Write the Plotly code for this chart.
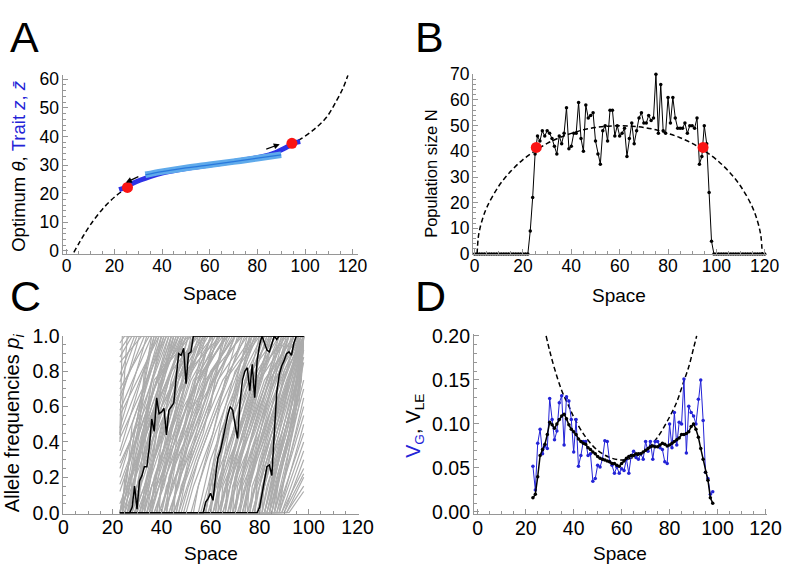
import plotly.graph_objects as go

W, H = 798, 573
FONT = "Liberation Sans, Arial, Helvetica, sans-serif"

# ---------------- Panel A data ----------------
theta_x = [3, 5, 7, 10, 15, 20.6, 25.7, 30, 35, 40, 50, 60, 70, 80, 85, 90, 94.2, 97.9, 103.7, 109.1, 113.2, 116, 118]
theta_y = [-0.5, 2.5, 5.3, 9.2, 14.6, 19.2, 22.2, 24.2, 26.0, 27.3, 29.0, 30.0, 31.0, 32.7, 34.0, 35.6, 37.5, 39.0, 42.4, 46.8, 52.5, 57.0, 61.4]
zbar_x = [22, 24, 26, 28, 31, 35, 40, 50, 60, 70, 80, 85, 88, 91, 94, 96, 98]
zbar_y = [21.4, 22.0, 22.8, 23.7, 24.8, 26.0, 27.2, 28.8, 30.0, 31.2, 32.6, 33.6, 34.5, 35.7, 37.0, 37.8, 38.2]
band_x = [33, 40, 50, 60, 70, 80, 90]
band_y = [26.6, 27.7, 29.0, 30.1, 31.2, 32.4, 33.6]
edge_x = [25.5, 94.5]
edge_theta = [22.2, 37.6]
arrow_tail_x = [30.7, 83.1]
arrow_tail_y = [26.2, 35.4]
arrow_head_x = [24.8, 89.4]
arrow_head_y = [23.9, 37.3]

# ---------------- Panel B data ----------------
space_B = list(range(0, 121))
pop_N = ([0] * 23 +
         [9, 22, 39, 46, 44, 48, 46, 48, 47, 45, 42, 39, 46, 43, 47, 57, 41, 42, 47, 47,
          59, 45, 40, 58, 53, 54, 55, 44, 39, 35, 48, 50, 44, 56, 56, 46, 50, 46, 47, 49,
          38, 45, 51, 43, 48, 53, 55, 51, 51, 54, 52, 53, 70, 47, 66, 48, 47, 61, 51, 61,
          53, 49, 49, 49, 51, 47, 50, 50, 49, 53, 35, 38, 50, 43, 24, 5] +
         [0] * 22)
cap_x = [1, 1.5, 2, 3, 5, 10, 15, 20, 25, 30, 35, 40, 45, 50, 55, 60, 65, 70, 75, 80, 85, 90, 95, 100, 105, 110, 115, 117, 118, 118.5, 119]
cap_N = [0, 6.5, 9.2, 12.9, 18.1, 26.5, 32.3, 36.8, 40.2, 43.1, 45.3, 47.0, 48.4, 49.3, 49.8, 50.0,
         49.8, 49.3, 48.4, 47.0, 45.3, 43.1, 40.2, 36.8, 32.3, 26.5, 18.1, 12.9, 9.2, 6.5, 0]
edge_N = [41.5, 41.5]

# ---------------- Panel C data ----------------
demes = list(range(23, 99))
# grey loci, set 1: x where p leaves 0, x at p=0.3, x at p=0.6, x where p reaches 1
g_x0 = [23, 23, 24, 24, 25, 26, 26, 27, 28, 28, 29, 30, 31, 31, 32, 33, 34, 35, 35, 36, 37, 38, 39, 40, 41, 42, 43, 44, 45, 46, 47,
        49, 52, 55,
        57, 58, 59, 60, 61, 62, 63, 64, 65, 66, 67, 68, 69, 70, 71, 72, 73, 74, 75, 76, 77, 78, 79, 80, 81, 82, 83, 84, 85, 86]
g_x3 = [27, 30, 28, 32, 29, 31, 34, 30, 35, 32, 37, 33, 38, 36, 40, 37, 41, 39, 43, 42, 44, 42, 46, 45, 48, 46, 50, 49, 52, 51, 54,
        55, 58, 60,
        63, 62, 66, 64, 68, 66, 70, 69, 71, 70, 74, 72, 76, 74, 78, 77, 79, 78, 82, 80, 83, 82, 85, 84, 86, 87, 88, 89, 90, 91]
g_x6 = [31, 36, 33, 38, 35, 34, 41, 37, 39, 40, 42, 38, 45, 40, 47, 44, 46, 48, 50, 46, 52, 49, 51, 54, 53, 56, 58, 55, 60, 59, 62,
        63, 64, 68,
        67, 70, 72, 69, 75, 73, 76, 74, 79, 77, 80, 78, 82, 81, 84, 83, 86, 85, 88, 87, 89, 88, 91, 90, 92, 93, 94, 95, 94, 96]
g_x1 = [37, 46, 41, 50, 43, 40, 53, 45, 49, 56, 51, 44, 58, 48, 55, 61, 53, 57, 64, 52, 60, 66, 58, 63, 69, 61, 67, 72, 65, 70, 74,
        71, 77, 75,
        79, 76, 82, 78, 85, 80, 88, 83, 90, 86, 92, 84, 94, 89, 96, 91, 97, 93, 98, 95, 98, 97, 98, 96, 98, 98, 98, 98, 98, 98]
# grey loci, set 2: x at p = 0, 0.15, 0.45, 0.75, 1
h_x0 = [23, 23, 24, 25, 25, 26, 27, 27, 28, 29, 30, 30, 31, 32, 33, 34, 34, 35, 36, 37, 38, 39, 40, 41, 42, 43, 44, 45, 46, 48,
        50, 53, 56, 58, 59, 60, 61, 62, 63, 64, 65, 66, 67, 68, 69, 70, 71, 72, 73, 74, 75, 76, 77, 78, 79, 80, 81, 82, 83, 85]
h_x15 = [25, 27, 26, 29, 27, 30, 28, 31, 30, 33, 31, 34, 35, 33, 36, 38, 36, 39, 38, 41, 40, 43, 42, 45, 44, 47, 46, 49, 48, 51,
         53, 55, 59, 60, 62, 61, 64, 63, 66, 65, 68, 67, 70, 69, 72, 71, 74, 73, 76, 75, 78, 77, 80, 79, 82, 81, 83, 85, 86, 87]
h_x45 = [29, 31, 33, 32, 30, 36, 34, 33, 37, 38, 35, 40, 38, 41, 43, 42, 45, 44, 47, 46, 49, 48, 51, 50, 53, 52, 55, 57, 56, 59,
         61, 62, 64, 67, 66, 69, 70, 72, 71, 74, 73, 76, 75, 78, 77, 80, 79, 82, 81, 83, 84, 85, 86, 87, 88, 89, 90, 91, 92, 93]
h_x75 = [33, 38, 36, 40, 34, 39, 41, 37, 43, 40, 45, 44, 47, 46, 49, 47, 52, 50, 53, 55, 54, 57, 58, 56, 61, 59, 63, 62, 65, 67,
         66, 70, 72, 71, 75, 77, 74, 79, 78, 81, 80, 83, 82, 85, 84, 87, 86, 88, 89, 90, 91, 92, 93, 94, 92, 95, 96, 95, 97, 97]
h_x1 = [36, 44, 42, 48, 39, 47, 45, 52, 49, 46, 54, 50, 57, 51, 59, 54, 62, 56, 65, 60, 67, 63, 70, 66, 72, 68, 75, 70, 77, 73,
        79, 76, 81, 78, 84, 83, 87, 85, 90, 86, 92, 88, 94, 90, 96, 92, 97, 94, 98, 95, 98, 97, 98, 98, 98, 98, 98, 98, 98, 98]
# grey loci, set 3: x at p = 0, 0.2, 0.5, 0.8, 1
k_x0 = [23, 24, 26, 27, 29, 30, 32, 33, 35, 36, 38, 39, 41, 42, 44, 45, 47,
        58, 60, 61, 63, 64, 66, 67, 69, 70, 72, 73, 75, 76, 78, 79, 81, 82, 84, 86, 88]
k_x2 = [26, 25, 29, 28, 32, 31, 35, 34, 38, 37, 41, 40, 44, 43, 47, 46, 50,
        60, 61, 64, 64, 67, 67, 70, 70, 73, 73, 76, 76, 79, 79, 82, 82, 85, 86, 88, 90]
k_x5 = [28, 31, 33, 35, 34, 37, 40, 42, 41, 44, 46, 48, 47, 50, 52, 54, 55,
        64, 67, 68, 70, 72, 73, 75, 77, 78, 80, 81, 83, 84, 86, 87, 88, 90, 91, 93, 94]
k_x8 = [35, 33, 39, 42, 44, 41, 46, 48, 50, 52, 51, 55, 57, 56, 60, 62, 61,
        70, 73, 76, 75, 79, 81, 80, 84, 85, 87, 86, 89, 91, 90, 93, 94, 95, 96, 97, 97]
k_x1 = [40, 38, 51, 47, 55, 49, 58, 53, 61, 57, 64, 60, 67, 63, 70, 66, 73,
        80, 77, 85, 82, 88, 86, 91, 89, 94, 92, 96, 94, 98, 97, 98, 98, 98, 98, 98, 98]
# loci already polymorphic at the left range edge (p at x=23, x where p reaches 1)
gl_p = [0.12, 0.20, 0.28, 0.35, 0.42, 0.48, 0.55, 0.62, 0.70, 0.78, 0.85, 0.92, 0.96,
        0.05, 0.16, 0.25, 0.32, 0.45, 0.58, 0.66, 0.74, 0.88, 0.40, 0.44]
gl_x1 = [44, 40, 47, 37, 42, 34, 39, 31, 35, 29, 32, 27, 25,
         49, 45, 43, 41, 38, 36, 33, 30, 28, 26, 24]
# loci still polymorphic at the right range edge (x where p leaves 0, p at x=98)
gr_x0 = [84, 86, 87, 88, 89, 90, 91, 85, 83, 87, 92, 86, 88, 89, 90, 84, 82, 91]
gr_p = [0.75, 0.60, 0.45, 0.50, 0.35, 0.30, 0.20, 0.85, 0.92, 0.65, 0.12, 0.55, 0.40, 0.25, 0.22, 0.70, 0.88, 0.15]

black1 = ([0] * 5 +
          [0.03, 0.15, 0.02, 0.18, 0.21, 0.26, 0.26, 0.37, 0.53, 0.46, 0.65, 0.56, 0.57, 0.59, 0.44,
           0.58, 0.60, 0.62, 0.77, 0.90, 0.89, 0.93, 0.73, 0.90, 0.91] +
          [1] * 46)
black2 = ([0] * 35 +
          [0.06, 0.08, 0.11, 0.07, 0.20, 0.31, 0.35, 0.42, 0.48, 0.55, 0.60, 0.58, 0.50, 0.42, 0.62,
           0.75, 0.80, 0.82, 0.69, 0.84, 0.65, 0.86, 0.95, 1.0, 0.96, 0.92, 0.91, 0.95, 1.0, 0.98] +
          [1] * 11)
black3 = ([0] * 57 +
          [0.03, 0.10, 0.17, 0.26, 0.27, 0.21, 0.45, 0.68, 0.78, 0.83, 0.86, 0.90, 0.91, 0.89, 0.96] +
          [1] * 4)

# ---------------- Panel D data ----------------
VG = [0.052, 0.025, 0.078, 0.094, 0.066, 0.075, 0.072, 0.129, 0.105, 0.082,
      0.092, 0.124, 0.132, 0.076, 0.131, 0.126, 0.105, 0.068, 0.105, 0.052,
      0.064, 0.080, 0.080, 0.064, 0.066, 0.035, 0.038, 0.053, 0.051, 0.060,
      0.081, 0.080, 0.057, 0.053, 0.044, 0.051, 0.044, 0.049, 0.047, 0.060,
      0.044, 0.064, 0.069, 0.062, 0.060, 0.066, 0.060, 0.080, 0.069, 0.080,
      0.060, 0.080, 0.080, 0.073, 0.071, 0.057, 0.055, 0.100, 0.073, 0.113,
      0.076, 0.102, 0.100, 0.151, 0.067, 0.120, 0.113, 0.109, 0.100, 0.128,
      0.150, 0.104, 0.045, 0.038, 0.020, 0.023]
VLE = [0.016, 0.020, 0.040, 0.064, 0.071, 0.077, 0.088, 0.102, 0.099, 0.095,
       0.100, 0.105, 0.109, 0.111, 0.106, 0.099, 0.094, 0.091, 0.088, 0.083,
       0.080, 0.078, 0.077, 0.073, 0.071, 0.068, 0.066, 0.063, 0.061, 0.060,
       0.059, 0.058, 0.057, 0.055, 0.055, 0.053, 0.052, 0.055, 0.058, 0.061,
       0.063, 0.064, 0.064, 0.066, 0.066, 0.066, 0.068, 0.070, 0.072, 0.074,
       0.075, 0.074, 0.074, 0.076, 0.078, 0.077, 0.075, 0.076, 0.078, 0.080,
       0.082, 0.084, 0.088, 0.088, 0.089, 0.091, 0.097, 0.100, 0.094, 0.085,
       0.072, 0.060, 0.045, 0.036, 0.016, 0.010]
vtheory_x = [28.5, 30, 32, 35, 38, 40, 45, 50, 55, 60, 65, 70, 75, 80, 83, 86, 88, 90, 91.3]
vtheory_y = [0.200, 0.183, 0.163, 0.138, 0.120, 0.108, 0.085, 0.070, 0.062, 0.059, 0.062, 0.070,
             0.085, 0.108, 0.125, 0.149, 0.165, 0.186, 0.200]

BLUE = "rgb(35,35,215)"
DASH = "5px,3px"

fig = go.Figure()

# ---- A ----
fig.add_trace(go.Scatter(x=theta_x, y=theta_y, mode="lines", line=dict(color="black", width=1.5, dash=DASH, shape="spline"),
                         xaxis="x", yaxis="y"))
fig.add_trace(go.Scatter(x=zbar_x, y=zbar_y, mode="lines", line=dict(color="rgb(45,50,230)", width=5, shape="spline"),
                         xaxis="x", yaxis="y"))
fig.add_trace(go.Scatter(x=band_x, y=band_y, mode="lines", line=dict(color="rgb(95,170,235)", width=6.5, shape="spline"),
                         xaxis="x", yaxis="y"))
fig.add_trace(go.Scatter(x=band_x, y=band_y, mode="lines", line=dict(color="rgb(40,120,220)", width=1.3, shape="spline"),
                         xaxis="x", yaxis="y"))
fig.add_trace(go.Scatter(x=edge_x, y=edge_theta, mode="markers", marker=dict(color="rgb(250,20,20)", size=11),
                         xaxis="x", yaxis="y", cliponaxis=False))

# ---- B ----
fig.add_trace(go.Scatter(x=cap_x, y=cap_N, mode="lines", line=dict(color="black", width=1.5, dash=DASH, shape="spline"),
                         xaxis="x2", yaxis="y2"))
fig.add_trace(go.Scatter(x=space_B, y=pop_N, mode="lines+markers", line=dict(color="black", width=1),
                         marker=dict(color="black", size=3.5), xaxis="x2", yaxis="y2", cliponaxis=False))
fig.add_trace(go.Scatter(x=edge_x, y=edge_N, mode="markers", marker=dict(color="rgb(250,20,20)", size=11),
                         xaxis="x2", yaxis="y2", cliponaxis=False))

# ---- C ----
gx, gy = [], []
for a, b, c, d in zip(g_x0, g_x3, g_x6, g_x1):
    gx += [23, a, b, c, d, 98, None]
    gy += [0, 0, 0.3, 0.6, 1, 1, None]
for a, b, c, d, e in zip(h_x0, h_x15, h_x45, h_x75, h_x1):
    gx += [23, a, b, c, d, e, 98, None]
    gy += [0, 0, 0.15, 0.45, 0.75, 1, 1, None]
for a, b, c, d, e in zip(k_x0, k_x2, k_x5, k_x8, k_x1):
    gx += [23, a, b, c, d, e, 98, None]
    gy += [0, 0, 0.2, 0.5, 0.8, 1, 1, None]
for p, d in zip(gl_p, gl_x1):
    gx += [23, d, 98, None]
    gy += [p, 1, 1, None]
for a, p in zip(gr_x0, gr_p):
    gx += [23, a, 98, None]
    gy += [0, 0, p, None]
fig.add_trace(go.Scatter(x=gx, y=gy, mode="lines", line=dict(color="rgb(172,172,172)", width=1.2),
                         xaxis="x3", yaxis="y3", cliponaxis=False, connectgaps=False))
for ser in (black1, black2, black3):
    fig.add_trace(go.Scatter(x=demes, y=ser, mode="lines", line=dict(color="black", width=1.5),
                             xaxis="x3", yaxis="y3", cliponaxis=False))

# ---- D ----
fig.add_trace(go.Scatter(x=vtheory_x, y=vtheory_y, mode="lines", line=dict(color="black", width=1.5, dash=DASH, shape="spline"),
                         xaxis="x4", yaxis="y4"))
fig.add_trace(go.Scatter(x=demes, y=VG, mode="lines+markers", line=dict(color=BLUE, width=1),
                         marker=dict(color=BLUE, size=3.5), xaxis="x4", yaxis="y4"))
fig.add_trace(go.Scatter(x=demes, y=VLE, mode="lines+markers", line=dict(color="black", width=1.5),
                         marker=dict(color="black", size=3.5), xaxis="x4", yaxis="y4"))


def xd(a, b):
    return [a / W, b / W]


def yd(top, bottom):
    return [1 - bottom / H, 1 - top / H]


GREY = "rgb(150,150,150)"


def ax(size, standoff):
    return dict(showline=True, linecolor=GREY, linewidth=1, mirror=False, showgrid=False, zeroline=False,
                ticks="inside", ticklen=5, tickcolor=GREY, tickwidth=1, ticklabelstandoff=standoff,
                tickfont=dict(family=FONT, size=size, color="black"))


def mn(d):
    return dict(ticks="inside", ticklen=3, dtick=d, tickcolor=GREY)


fig.update_layout(
    width=W, height=H, margin=dict(l=0, r=0, t=0, b=0), showlegend=False, autosize=False,
    paper_bgcolor="white", plot_bgcolor="white",
    xaxis=dict(ax(17.5, -4), domain=xd(59, 362), range=[-1.75, 122.2], anchor="y", tick0=0, dtick=20, minor=mn(5)),
    yaxis=dict(ax(17.5, -1), domain=yd(66.7, 252), range=[-1.0, 61.4], anchor="x", tick0=0, dtick=10, minor=mn(2)),
    xaxis2=dict(ax(17.5, -4), domain=xd(480, 781.7), range=[-0.7, 121], anchor="y2", tick0=0, dtick=20, minor=mn(5)),
    yaxis2=dict(ax(17.5, -1), domain=yd(65.7, 252.3), range=[0, 70], anchor="x2", tick0=0, dtick=10, minor=mn(2)),
    xaxis3=dict(ax(19.5, -4), domain=xd(60, 362.7), range=[0, 120.4], anchor="y3", tick0=0, dtick=20, minor=mn(5)),
    yaxis3=dict(ax(19.5, -1), domain=yd(337.3, 521.7), range=[-0.005, 1.0], anchor="x3", tick0=0, dtick=0.2,
                tickformat=".1f", minor=mn(0.05)),
    xaxis4=dict(ax(19.5, -4), domain=xd(481, 782), range=[-1.6, 120.8], anchor="y4", tick0=0, dtick=20, minor=mn(5)),
    yaxis4=dict(ax(19.5, -1), domain=yd(335, 522.3), range=[-0.0025, 0.2025], anchor="x4", tick0=0, dtick=0.05,
                tickformat=".2f", minor=mn(0.01)),
)

ann = []
# arrows in panel A
for tx, ty, hx, hy in zip(arrow_tail_x, arrow_tail_y, arrow_head_x, arrow_head_y):
    ann.append(dict(x=hx, y=hy, ax=tx, ay=ty, xref="x", yref="y", axref="x", ayref="y", text="", showarrow=True,
                    arrowhead=2, arrowsize=1, arrowwidth=1.2, arrowcolor="black"))


def txt(s, px, py, size=19, angle=0, xanchor="center", yanchor="middle"):
    ann.append(dict(text=s, x=px / W, y=1 - py / H, xref="paper", yref="paper", showarrow=False, textangle=angle,
                    xanchor=xanchor, yanchor=yanchor, font=dict(family=FONT, size=size, color="black")))


for letter, px, py in (("A", 3, 0), ("B", 418, 0), ("C", 3, 269), ("D", 418, 269)):
    txt(letter, px, py, size=43, xanchor="left", yanchor="top")

txt("Space", 210, 293)
txt("Space", 630, 295)
txt("Space", 211, 563)
txt("Space", 631, 563)
txt("Optimum <i>θ</i>, <span style='color:" + BLUE + "'>Trait <i>z</i>, <i>z̄</i></span>", 13, 161, size=18.5, angle=-90)
txt("Population size N", 437, 169, size=16.5, angle=-90)
txt("Allele frequencies <i>p<sub>i</sub></i>", 9, 427, size=20, angle=-90)
txt("<span style='color:" + BLUE + "'>V<sub>G</sub></span>, V<sub>LE</sub>", 420, 430, size=19.5, angle=-90)

fig.update_layout(annotations=ann)
fig.write_html(
    "out.html",
    config={"displayModeBar": False, "responsive": False},
    post_script=("document.documentElement.style.margin='0';document.documentElement.style.overflow='hidden';"
                 "document.body.style.margin='0';document.body.style.padding='0';document.body.style.overflow='hidden';"),
)
